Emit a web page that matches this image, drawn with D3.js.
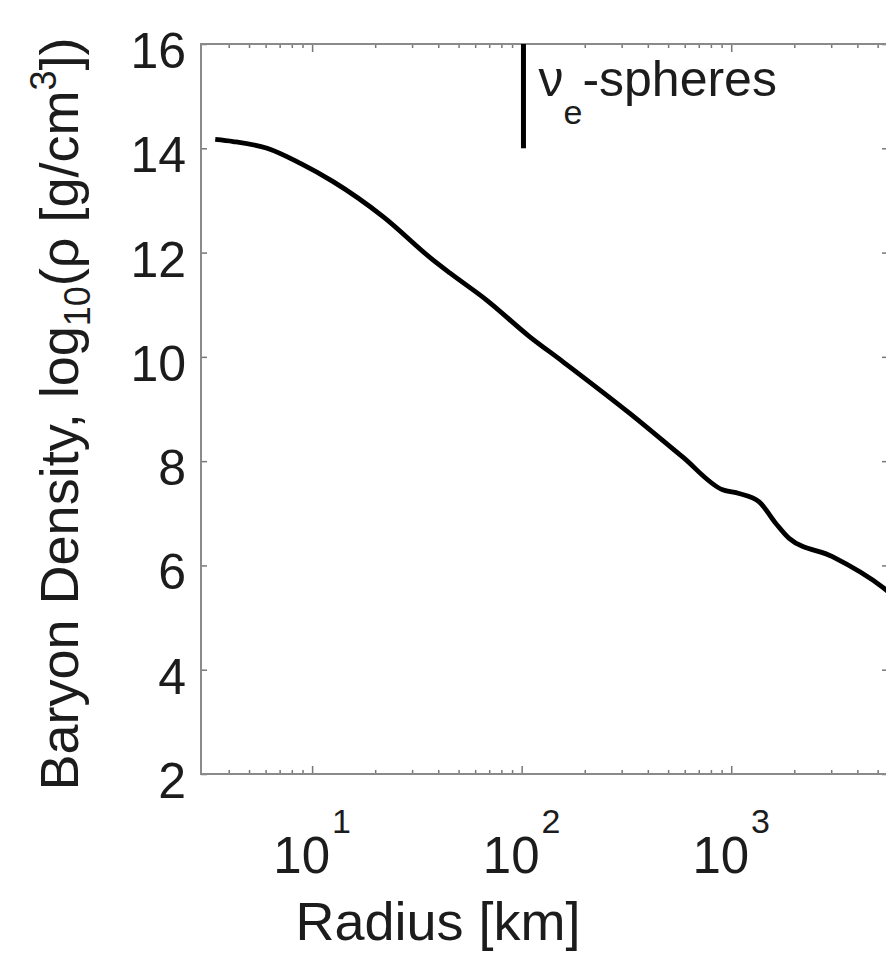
<!DOCTYPE html>
<html>
<head>
<meta charset="UTF-8">
<title></title>
<script src="https://cdn.jsdelivr.net/npm/d3@7"></script>
<style>
  body { margin: 0; background: #fff; }
  text { font-family: "Liberation Sans", Arial, sans-serif; fill: #1c1c1c; }
</style>
</head>
<body>
<div id="tu1"></div>
<script>
// radius [km] and log10 density
var radius  = [3.45, 4.2, 6.1, 8.8, 12.6, 21.8, 37.7, 45.4, 68, 109, 157, 327, 586, 910, 1090, 1360, 1630, 1890, 3040, 5250, 5600];
var density = [14.17, 14.13, 14.0, 13.71, 13.36, 12.69, 11.86, 11.61, 11.09, 10.39, 9.91, 8.92, 8.08, 7.45, 7.38, 7.22, 6.81, 6.52, 6.17, 5.59, 5.5];
// nu_e sphere marker
var sphereRadius = [102];
var sphereRange = [14, 16];
// ticks
var xMajor = [10, 100, 1000];
var xExponent = ['1', '2', '3'];
var xMinor = [4, 5, 6, 7, 8, 9, 20, 30, 40, 50, 60, 70, 80, 90, 200, 300, 400, 500, 600, 700, 800, 900, 2000, 3000, 4000, 5000];
var yTicks = [2, 4, 6, 8, 10, 12, 14, 16];

function drawChart(divname) {
    var W = 886, H = 956;
    var pl = 201, pt = 44, pr = 888, pb = 774;

    var svg = d3.select('#' + divname).append('svg')
        .attr('width', W)
        .attr('height', H);

    var x = d3.scaleLog().domain([2.95, 5600]).range([pl, pr]);
    var y = d3.scaleLinear().domain([2, 16]).range([pb, pt]);

    // clip for the plot area
    svg.append('clipPath').attr('id', 'clip')
        .append('rect').attr('x', pl).attr('y', pt)
        .attr('width', pr - pl).attr('height', pb - pt);

    // axes: ticks point inward, on all four sides
    function styleAxis(g) {
        g.select('.domain').remove();
        g.selectAll('.tick line').attr('stroke', '#777').attr('stroke-width', 1.5);
        g.selectAll('.tick text').remove();
    }
    svg.append('g').attr('transform', 'translate(0,' + pb + ')')
        .call(d3.axisBottom(x).tickValues(xMajor).tickSize(-8)).call(styleAxis);
    svg.append('g').attr('transform', 'translate(0,' + pb + ')')
        .call(d3.axisBottom(x).tickValues(xMinor).tickSize(-4)).call(styleAxis);
    svg.append('g').attr('transform', 'translate(0,' + pt + ')')
        .call(d3.axisTop(x).tickValues(xMajor).tickSize(-8)).call(styleAxis);
    svg.append('g').attr('transform', 'translate(0,' + pt + ')')
        .call(d3.axisTop(x).tickValues(xMinor).tickSize(-4)).call(styleAxis);
    svg.append('g').attr('transform', 'translate(' + pl + ',0)')
        .call(d3.axisLeft(y).tickValues(yTicks).tickSize(-6)).call(styleAxis);
    svg.append('g').attr('transform', 'translate(' + pr + ',0)')
        .call(d3.axisRight(y).tickValues(yTicks).tickSize(-6)).call(styleAxis);

    // frame
    svg.append('rect')
        .attr('x', pl).attr('y', pt)
        .attr('width', pr - pl).attr('height', pb - pt)
        .attr('fill', 'none').attr('stroke', '#8a8a8a').attr('stroke-width', 2);

    // y tick labels
    svg.append('g').selectAll('text').data(yTicks).enter()
        .append('text')
        .attr('x', pl - 15)
        .attr('y', function(d) { return y(d) + 24; })
        .attr('text-anchor', 'end')
        .attr('font-size', 50)
        .text(function(d) { return d; });

    // x tick labels 10^n
    var xl = svg.append('g').selectAll('text').data(xMajor).enter()
        .append('text')
        .attr('x', function(d) { return x(d); })
        .attr('y', 873)
        .attr('text-anchor', 'middle')
        .attr('font-size', 51);
    xl.append('tspan').text('10');
    xl.append('tspan').attr('font-size', 34).attr('dy', -40).attr('dx', 2)
        .text(function(d, i) { return xExponent[i]; });

    // axis titles
    svg.append('text')
        .attr('x', 438).attr('y', 940)
        .attr('text-anchor', 'middle')
        .attr('font-size', 54)
        .text('Radius [km]');

    var yt = svg.append('text')
        .attr('transform', 'translate(78,414) rotate(-90)')
        .attr('text-anchor', 'middle')
        .attr('font-size', 54);
    yt.append('tspan').text('Baryon Density, log');
    yt.append('tspan').attr('font-size', 36).attr('dy', 12).text('10');
    yt.append('tspan').attr('dy', -12).text('(ρ [g/cm');
    yt.append('tspan').attr('font-size', 36).attr('dy', -22).text('3');
    yt.append('tspan').attr('dy', 22).text('])');

    // density profile
    var line = d3.line()
        .x(function(d) { return x(d[0]); })
        .y(function(d) { return y(d[1]); })
        .curve(d3.curveMonotoneX);
    svg.append('path')
        .attr('clip-path', 'url(#clip)')
        .attr('d', line(d3.zip(radius, density)))
        .attr('fill', 'none')
        .attr('stroke', '#000')
        .attr('stroke-width', 4.8);

    // nu_e-sphere marker
    svg.append('line')
        .attr('x1', x(sphereRadius[0])).attr('x2', x(sphereRadius[0]))
        .attr('y1', y(sphereRange[0])).attr('y2', y(sphereRange[1]))
        .attr('stroke', '#000').attr('stroke-width', 5);

    var lab = svg.append('text')
        .attr('x', x(sphereRadius[0]) + 15)
        .attr('y', 96)
        .attr('font-size', 50);
    lab.append('tspan').text('ν');
    lab.append('tspan').attr('font-size', 34).attr('dy', 28).text('e');
    lab.append('tspan').attr('dy', -28).text('-spheres');
}
drawChart('tu1');
</script>
</body>
</html>
